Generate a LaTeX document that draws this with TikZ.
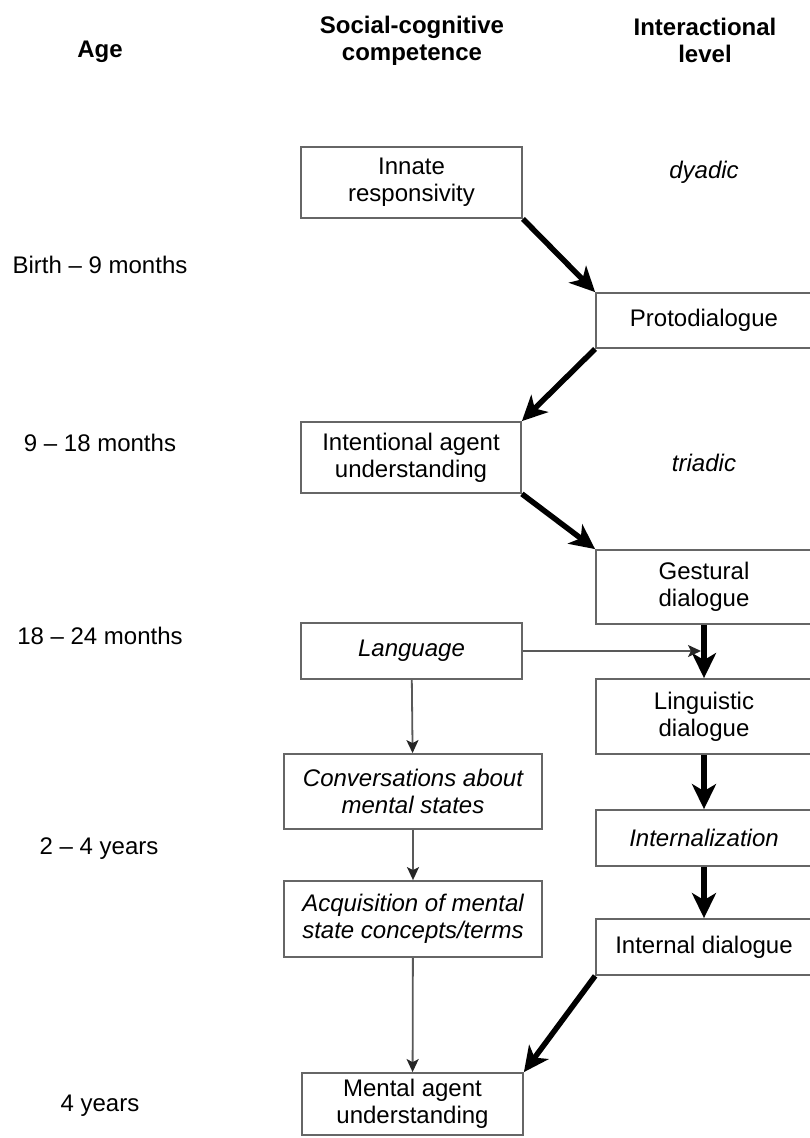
\documentclass[tikz,border=0pt]{standalone}
\usepackage{fontspec}
\setmainfont{Liberation Sans}
\usetikzlibrary{arrows.meta}
\begin{document}
\begin{tikzpicture}[x=1pt,y=-1pt,
  font=\fontsize{24}{27}\selectfont,
  box/.style={draw=black!60,line width=1.8pt,inner sep=0pt,align=center,minimum width=#1},
  box/.default=221,
  bigarrow/.style={line width=5.5pt,-{Stealth[length=25pt,width=24pt,inset=7pt]}},
  smallarrow/.style={draw=black!65,line width=1.8pt,-{Stealth[length=13pt,width=12pt,inset=3pt,fill=black!85,color=black!85]}}]
\useasboundingbox (0,0) rectangle (809,1138);
\node[font=\fontsize{24}{27}\selectfont\bfseries] (agehead) at (100,52) {Age};
\node[font=\fontsize{24}{27}\selectfont\bfseries,align=center] (sochead) at (412,40.5) {Social-cognitive\\competence};
\node[font=\fontsize{24}{27}\selectfont\bfseries,align=center] (inthead) at (705,40.5) {Interactional\\level};
\node (age1) at (100,265) {Birth -- 9 months};
\node (age2) at (100,443) {9 -- 18 months};
\node (age3) at (100,636) {18 -- 24 months};
\node (age4) at (99,849) {2 -- 4 years};
\node (age5) at (100,1106) {4 years};
\node[font=\fontsize{24}{27}\selectfont\itshape] (dyadic) at (704,172) {dyadic};
\node[font=\fontsize{24}{27}\selectfont\itshape] (triadic) at (704,463) {triadic};
\node[box,minimum height=71] (innate) at (411.5,182.5) {Innate\\responsivity};
\node[box=216,minimum height=55] (proto) at (704,320.5) {Protodialogue};
\node[box=220,minimum height=71] (intent) at (411,457.5) {Intentional agent\\understanding};
\node[box=216,minimum height=74] (gest) at (704,587) {Gestural\\dialogue};
\node[box,minimum height=56] (lang) at (411.5,651) {\itshape Language};
\node[box=216,minimum height=75] (ling) at (704,716.5) {Linguistic\\dialogue};
\node[box=258,minimum height=75] (conv) at (413,791.5) {\itshape Conversations about\\\itshape mental states};
\node[box=216,minimum height=56] (intern) at (704,838) {\itshape Internalization};
\node[box=258,minimum height=76] (acq) at (413,919) {\itshape Acquisition of mental\\\itshape state concepts/terms};
\node[box=216,minimum height=56] (intdia) at (704,947) {Internal dialogue};
\node[box,minimum height=62] (mental) at (412.5,1104) {Mental agent\\understanding};
\coordinate (join) at (701,651);
\draw[bigarrow] (innate.south east) -- (proto.north west);
\draw[bigarrow] (proto.south west) -- (intent.north east);
\draw[bigarrow] (intent.south east) -- (gest.north west);
\draw[bigarrow] (gest) -- (ling);
\draw[bigarrow] (ling) -- (intern);
\draw[bigarrow] (intern) -- (intdia);
\draw[bigarrow] (intdia.south west) -- (mental.north east);
\draw[smallarrow] (lang) -- (join);
\draw[smallarrow] (lang) -- (conv);
\draw[smallarrow] (conv) -- (acq);
\draw[smallarrow] (acq) -- (mental);
\end{tikzpicture}
\end{document}
